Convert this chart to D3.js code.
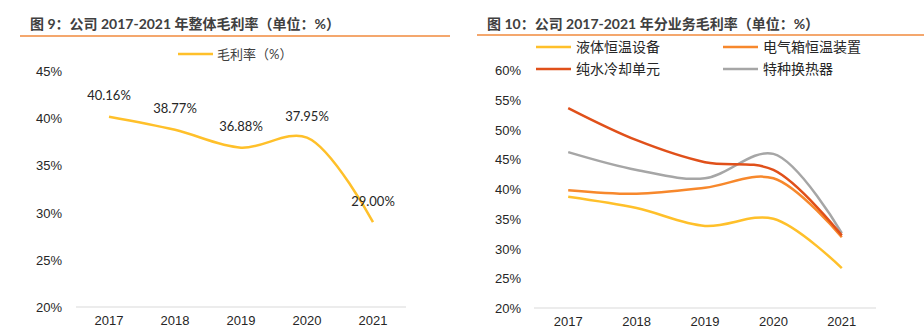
<!DOCTYPE html>
<html>
<head>
<meta charset="utf-8">
<script src="https://cdn.jsdelivr.net/npm/d3@7"></script>
<style>
  body { margin: 0; background: #fff; }
  svg { display: block; font-family: "Lato", "Noto Sans CJK SC", sans-serif; }
  .tick text { font-size: 13px; fill: #262626; }
</style>
</head>
<body>
<div id="chart"></div>
<script>
const years = ["2017", "2018", "2019", "2020", "2021"];

// overall gross margin, %
const totalMargin = [40.16, 38.77, 36.88, 37.95, 29.00];

// margin by business line, %
const seriesNames = ["液体恒温设备", "电气箱恒温装置", "纯水冷却单元", "特种换热器"];
const liquidUnit = [38.7, 36.8, 33.8, 35.0, 26.7];
const cabinetUnit = [39.8, 39.2, 40.2, 41.8, 31.9];
const waterCooling = [53.6, 48.2, 44.5, 43.2, 32.2];
const heatExchanger = [46.2, 43.2, 41.8, 45.9, 32.6];

const leftTicks = [20, 25, 30, 35, 40, 45];
const rightTicks = [20, 25, 30, 35, 40, 45, 50, 55, 60];

const colors = ["#ffc02a", "#f7882c", "#e0501a", "#a6a6a6"];

const svg = d3.select("#chart").append("svg")
  .attr("width", 924)
  .attr("height", 333);

function drawTitle(text, x, lineX0, lineX1, lineY) {
  svg.append("text")
    .attr("x", x)
    .attr("y", 29)
    .attr("font-size", 14)
    .attr("font-weight", "bold")
    .attr("fill", "#404040")
    .text(text);
  svg.append("line")
    .attr("x1", lineX0).attr("x2", lineX1)
    .attr("y1", lineY).attr("y2", lineY)
    .attr("stroke", "#f08a3c")
    .attr("stroke-width", 1.5);
}

function drawAxes(x, y, ticks, labelX) {
  const [r0, r1] = x.range();
  svg.append("line")
    .attr("x1", r0).attr("x2", r1)
    .attr("y1", y(ticks[0] / 100)).attr("y2", y(ticks[0] / 100))
    .attr("stroke", "#d9d9d9")
    .attr("stroke-width", 1);

  svg.append("g")
    .attr("transform", `translate(${labelX},0)`)
    .call(d3.axisLeft(y).tickValues(ticks.map((t) => t / 100))
      .tickFormat(d3.format(".0%")).tickSize(0).tickPadding(0))
    .call((g) => g.select(".domain").remove())
    .selectAll("text")
    .attr("dy", "0.35em");

  svg.append("g")
    .attr("transform", `translate(0,${y(ticks[0] / 100) + 13})`)
    .call(d3.axisBottom(x).tickSize(0).tickPadding(0))
    .call((g) => g.select(".domain").remove())
    .selectAll("text")
    .attr("dy", "0.35em");
}

const line = (x, y) => d3.line()
  .x((d, i) => x(years[i]) + x.bandwidth() / 2)
  .y((d) => y(d / 100))
  .curve(d3.curveCatmullRom.alpha(0.5));

// left: overall margin
drawTitle("图 9：公司 2017-2021 年整体毛利率（单位：%）", 30, 20, 450, 36);

const x1 = d3.scaleBand().domain(years).range([76, 406]);
const y1 = d3.scaleLinear().domain([0.20, 0.45]).range([307, 71]);
drawAxes(x1, y1, leftTicks, 62);

svg.append("path")
  .datum(totalMargin)
  .attr("fill", "none")
  .attr("stroke", colors[0])
  .attr("stroke-width", 2.5)
  .attr("d", line(x1, y1));

svg.selectAll("text.value")
  .data(totalMargin)
  .enter()
  .append("text")
  .attr("class", "value")
  .attr("x", (d, i) => x1(years[i]) + x1.bandwidth() / 2)
  .attr("y", (d) => y1(d / 100) - 21)
  .attr("dy", "0.35em")
  .attr("text-anchor", "middle")
  .attr("font-size", 13)
  .attr("fill", "#262626")
  .text((d) => d.toFixed(2) + "%");

svg.append("line")
  .attr("x1", 178).attr("x2", 213)
  .attr("y1", 54).attr("y2", 54)
  .attr("stroke", colors[0])
  .attr("stroke-width", 2.5);
svg.append("text")
  .attr("x", 217)
  .attr("y", 54)
  .attr("dy", "0.35em")
  .attr("font-size", 13)
  .attr("fill", "#404040")
  .text("毛利率（%）");

// right: margin by business line
drawTitle("图 10：公司 2017-2021 年分业务毛利率（单位：%）", 487, 477, 924, 35);

const x2 = d3.scaleBand().domain(years).range([534, 876]);
const y2 = d3.scaleLinear().domain([0.20, 0.60]).range([308, 70]);
drawAxes(x2, y2, rightTicks, 521);

const series = [liquidUnit, cabinetUnit, waterCooling, heatExchanger];
const drawOrder = [0, 3, 1, 2];
drawOrder.forEach((k) => {
  svg.append("path")
    .datum(series[k])
    .attr("fill", "none")
    .attr("stroke", colors[k])
    .attr("stroke-width", 2.5)
    .attr("d", line(x2, y2));
});

const legendPos = [[536, 47], [723, 47], [536, 69], [723, 69]];
seriesNames.forEach((name, k) => {
  const [lx, ly] = legendPos[k];
  svg.append("line")
    .attr("x1", lx).attr("x2", lx + 35)
    .attr("y1", ly).attr("y2", ly)
    .attr("stroke", colors[k])
    .attr("stroke-width", 2.5);
  svg.append("text")
    .attr("x", lx + 40)
    .attr("y", ly)
    .attr("dy", "0.35em")
    .attr("font-size", 14)
    .attr("fill", "#262626")
    .text(name);
});
</script>
</body>
</html>
